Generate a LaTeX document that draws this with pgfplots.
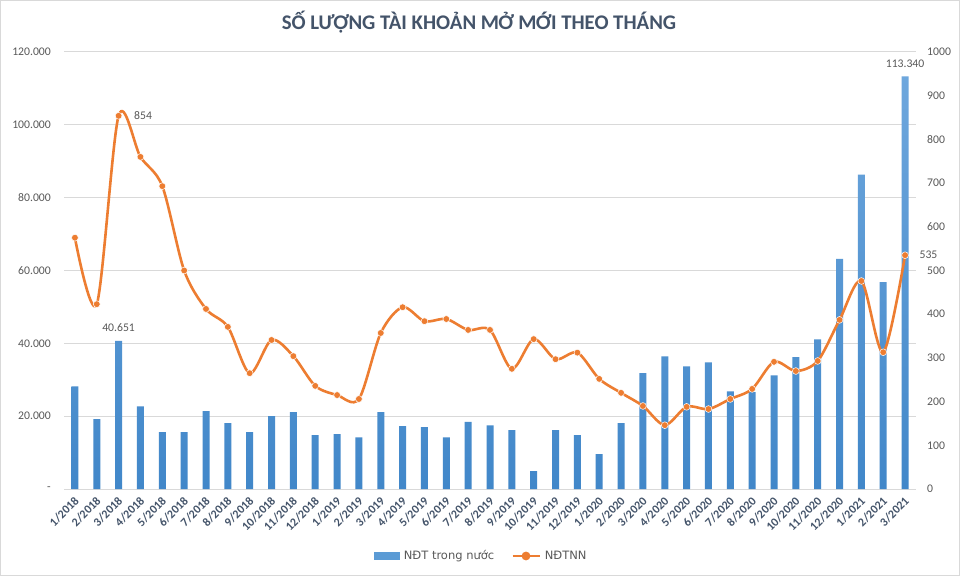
\documentclass[border=0pt]{standalone}
\usepackage{pgfplots}
\usepackage{pgfplotstable}
\pgfplotsset{compat=1.18}
\usepackage{fontspec}
\setmainfont{Carlito}
\newfontfamily\legfont{DejaVu Sans}
\definecolor{barc}{HTML}{5B9BD5}
\definecolor{bartop}{HTML}{6EA7DD}
\definecolor{barbot}{HTML}{4187C9}
\definecolor{linec}{HTML}{ED7D31}
\definecolor{gridc}{HTML}{D9D9D9}
\definecolor{txt}{HTML}{595959}
\definecolor{titlec}{HTML}{44546A}

\pgfplotstableread{
x bar line
0 28200 575
1 19200 423
2 40651 854
3 22700 760
4 15600 693
5 15600 500
6 21400 412
7 18100 371
8 15600 265
9 20000 341
10 21100 304
11 14800 236
12 15100 215
13 14200 206
14 21100 357
15 17300 416
16 17000 384
17 14200 389
18 18400 364
19 17500 364
20 16200 275
21 4900 343
22 16200 297
23 14800 312
24 9600 252
25 18100 220
26 31800 190
27 36400 146
28 33700 188
29 34800 183
30 26800 206
31 26600 229
32 31200 291
33 36200 270
34 41100 293
35 63200 387
36 86300 476
37 56800 313
38 113340 535
}\data

\begin{document}
\begin{tikzpicture}[x=1pt,y=1pt]
\useasboundingbox (0,0) rectangle (960,576);
\fill[white] (0,0) rectangle (960,576);
\draw[gridc, line width=1pt] (0.5,0.5) rectangle (959.5,575.5);
\node[font=\fontsize{20.8}{24}\selectfont\bfseries, text=titlec] at (479,554) {SỐ LƯỢNG TÀI KHOẢN MỞ MỚI THEO THÁNG};

\begin{axis}[
  at={(64pt,87pt)}, anchor=south west, scale only axis,
  width=852pt, height=437pt,
  clip=false,
  xmin=-0.5, xmax=38.5, ymin=0, ymax=120000,
  scaled y ticks=false,
  axis line style={draw=none},
  major tick length=0pt,
  ymajorgrids, grid style={gridc, line width=1pt},
  ytick={0,20000,40000,60000,80000,100000,120000},
  yticklabels={-\hspace{9pt},20.000,40.000,60.000,80.000,100.000,120.000},
  yticklabel style={font=\fontsize{11.7}{13}\selectfont, text=txt, inner sep=0pt, anchor=east, xshift=-13pt},
  xtick={0,...,38},
  xticklabels={1/2018,2/2018,3/2018,4/2018,5/2018,6/2018,7/2018,8/2018,9/2018,10/2018,11/2018,12/2018,1/2019,2/2019,3/2019,4/2019,5/2019,6/2019,7/2019,8/2019,9/2019,10/2019,11/2019,12/2019,1/2020,2/2020,3/2020,4/2020,5/2020,6/2020,7/2020,8/2020,9/2020,10/2020,11/2020,12/2020,1/2021,2/2021,3/2021},
  xticklabel style={font=\fontsize{12}{14}\selectfont\bfseries, text=titlec, inner sep=0pt, xshift=2pt, yshift=-10pt, rotate=45, anchor=east},
]
\addplot[ybar, bar width=7pt, draw=none, top color=bartop, bottom color=barbot] table[x=x,y=bar]{\data};
\node[font=\fontsize{11.7}{13}\selectfont, text=txt] at (axis cs:2,40651) [yshift=13pt] {40.651};
\node[font=\fontsize{11.7}{13}\selectfont, text=txt] at (axis cs:38,113340) [yshift=13pt] {113.340};
\end{axis}

\begin{axis}[
  at={(64pt,87pt)}, anchor=south west, scale only axis,
  width=852pt, height=437pt,
  clip=false,
  xmin=-0.5, xmax=38.5, ymin=0, ymax=1000,
  axis line style={draw=none},
  major tick length=0pt,
  xtick=\empty,
  ytick={0,100,...,1000},
  yticklabels={0,100,200,300,400,500,600,700,800,900,1000},
  yticklabel pos=right,
  yticklabel style={font=\fontsize{11.7}{13}\selectfont, text=txt, inner sep=0pt, anchor=west, xshift=11pt},
  legend columns=2,
  legend style={at={(0.490,-0.1533)}, anchor=center, draw=none, fill=none,
    font=\legfont\fontsize{11.5}{13}\selectfont, text=txt,
    /tikz/every even column/.append style={column sep=15pt},
    /tikz/every odd column/.append style={column sep=2pt}},
]
\addlegendimage{legend image code/.code={\fill[barc] (0pt,-3.5pt) rectangle (25pt,3.5pt);}}
\addlegendentry{NĐT trong nước}
\addplot[smooth, tension=0.5, linec, line width=2.6pt, mark=*, mark size=3.4pt,
  mark options={fill=linec, draw=white, line width=0.5pt},
  legend image code/.code={\draw[linec,line width=2.6pt] (0pt,0pt)--(27pt,0pt); \fill[linec] (13.5pt,0pt) circle (3pt);}]
  table[x=x,y=line]{\data};
\addlegendentry{NĐTNN}
\node[font=\fontsize{11.7}{13}\selectfont, text=txt, anchor=west] at (axis cs:2,854) [xshift=12pt] {854};
\node[font=\fontsize{11.7}{13}\selectfont, text=txt, anchor=west] at (axis cs:38,535) [xshift=11pt] {535};
\end{axis}
\end{tikzpicture}
\end{document}
